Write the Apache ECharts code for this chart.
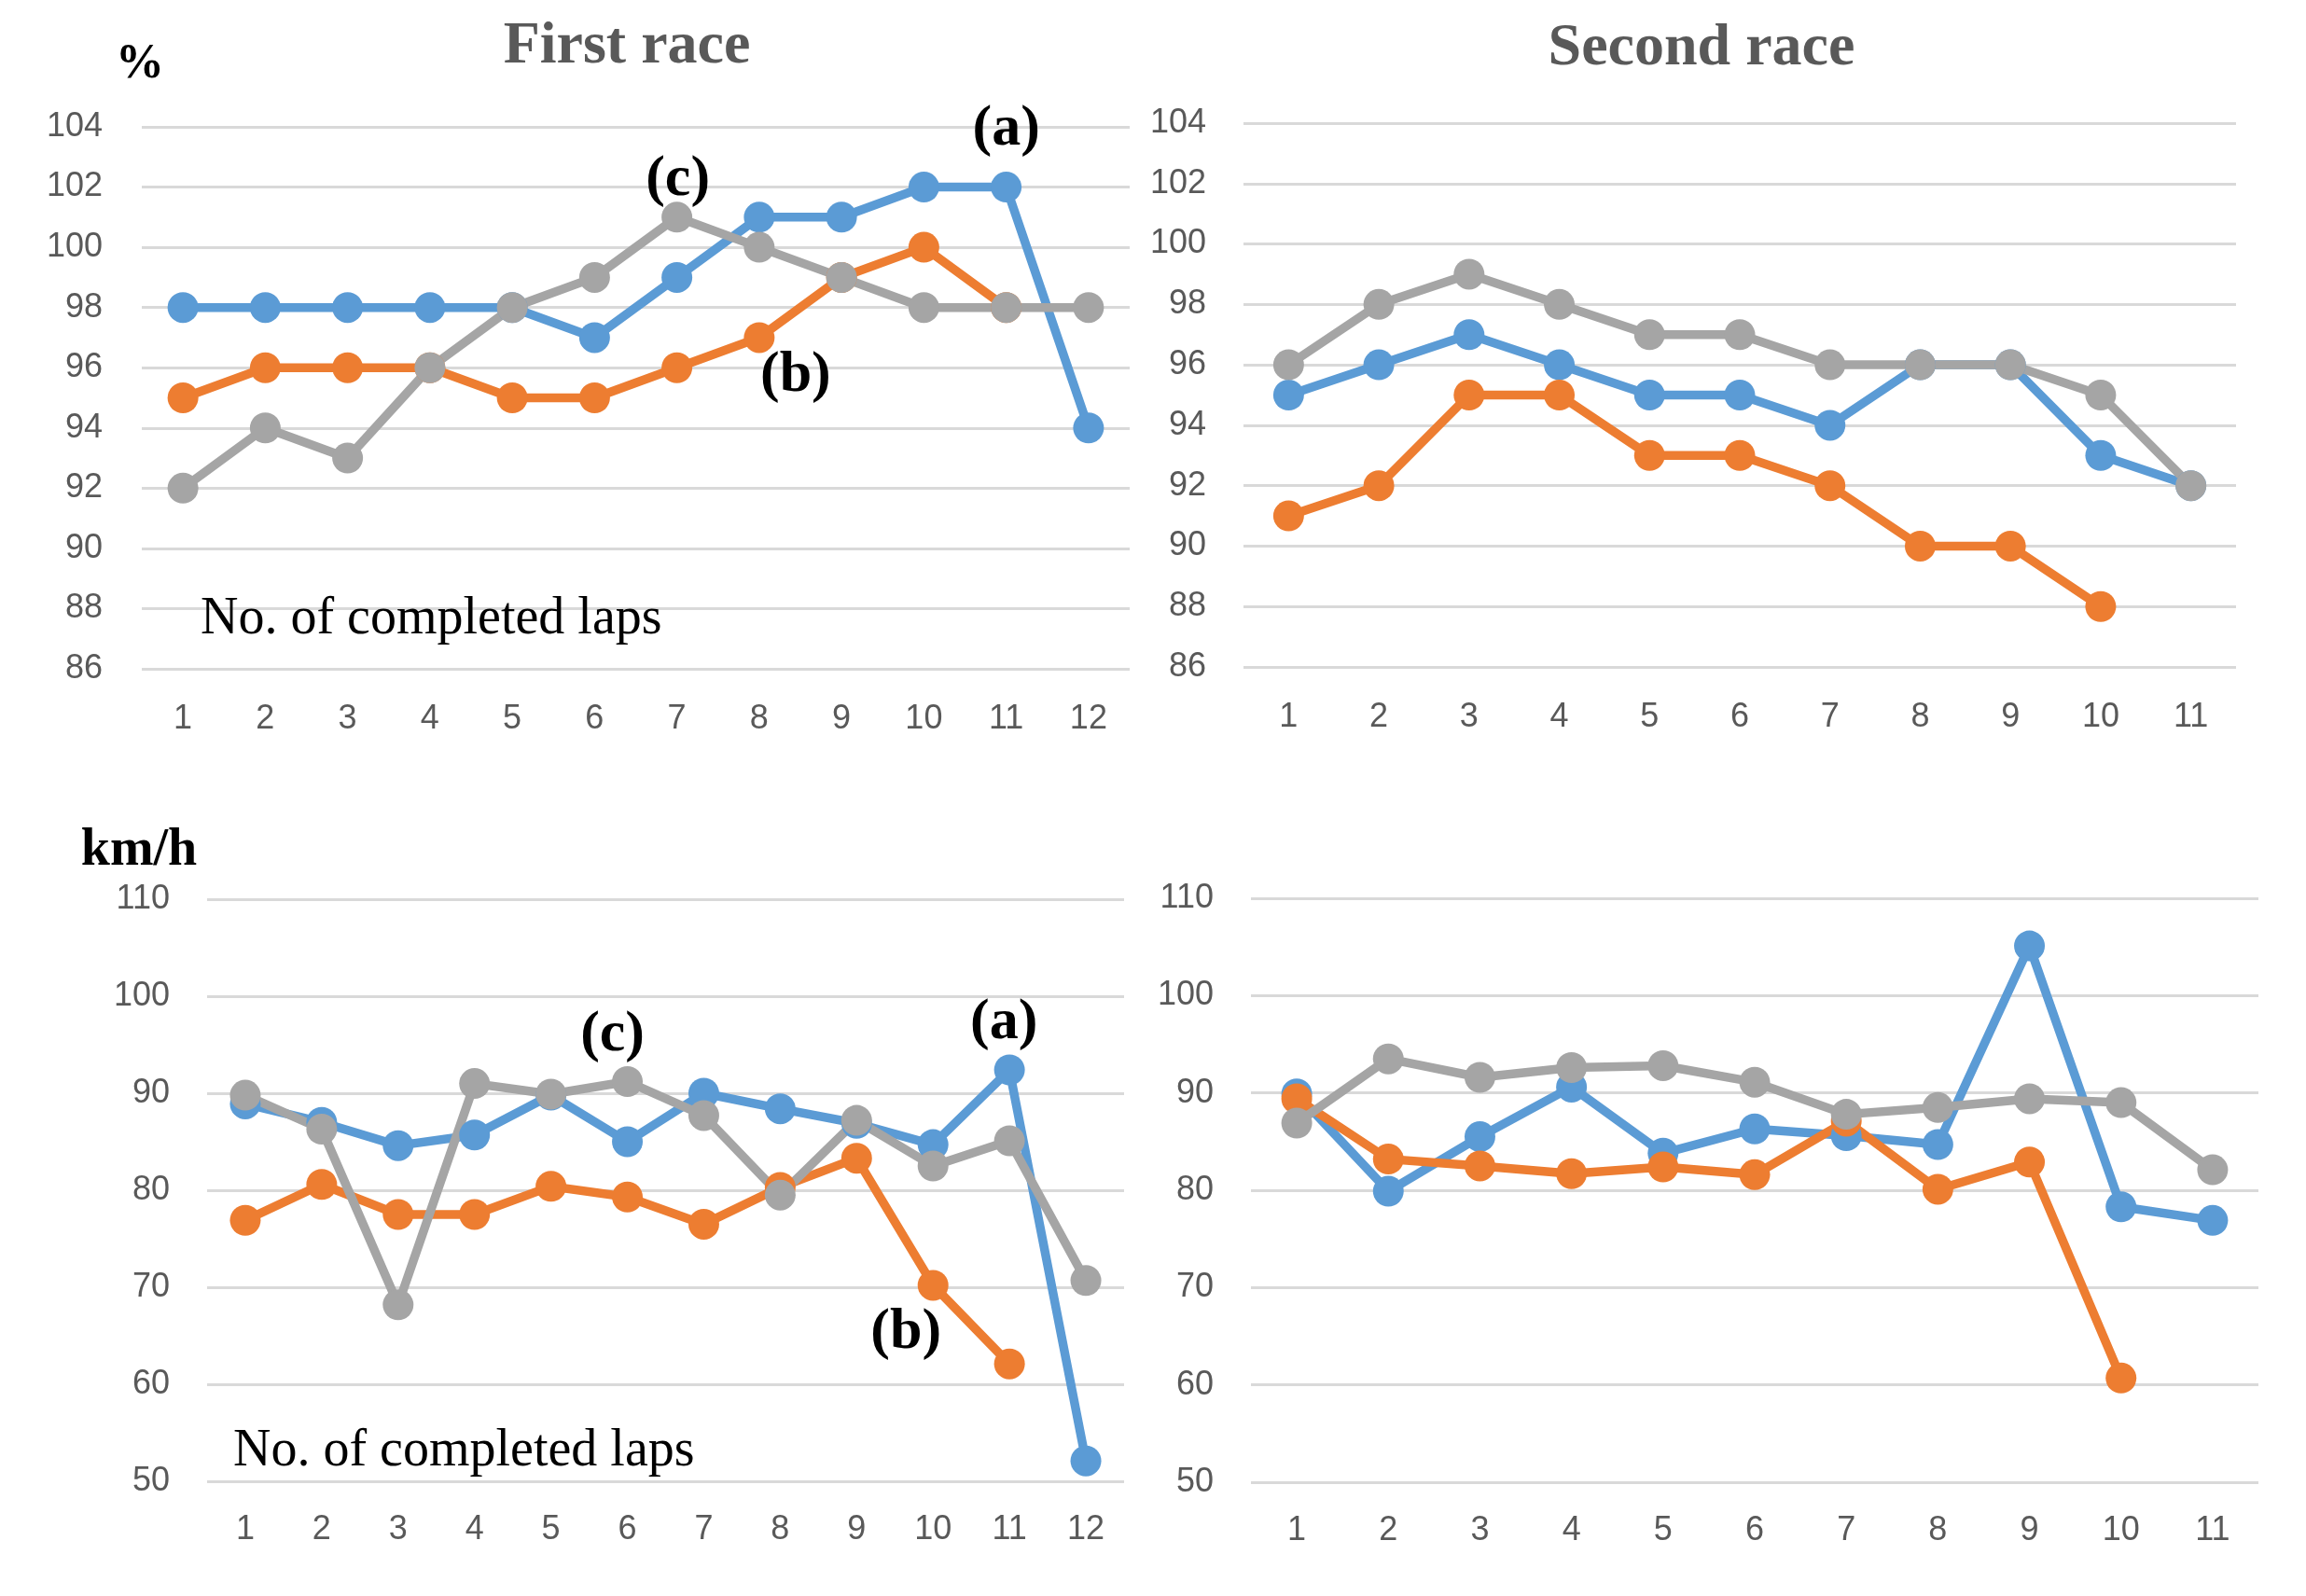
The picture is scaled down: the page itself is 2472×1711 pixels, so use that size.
<!DOCTYPE html>
<html>
<head>
<meta charset="utf-8">
<script src="https://cdn.jsdelivr.net/npm/echarts@6/dist/echarts.min.js"></script>
<style>
html,body{margin:0;padding:0;background:#fff;}
#c{width:2472px;height:1711px;}
</style>
</head>
<body>
<div id="c"></div>
<script>
// ---- Data ----
const lapsRace1 = ['1','2','3','4','5','6','7','8','9','10','11','12'];
const lapsRace2 = ['1','2','3','4','5','6','7','8','9','10','11'];

// Percent (top row)
const pctRace1A = [98, 98, 98, 98, 98, 97, 99, 101, 101, 102, 102, 94];
const pctRace1B = [95, 96, 96, 96, 95, 95, 96, 97, 99, 100, 98];
const pctRace1C = [92, 94, 93, 96, 98, 99, 101, 100, 99, 98, 98, 98];
const pctRace2A = [95, 96, 97, 96, 95, 95, 94, 96, 96, 93, 92];
const pctRace2B = [91, 92, 95, 95, 93, 93, 92, 90, 90, 88];
const pctRace2C = [96, 98, 99, 98, 97, 97, 96, 96, 96, 95, 92];

// Speed km/h (bottom row)
const kmhRace1A = [88.9, 87.0, 84.6, 85.7, 89.8, 85.0, 90.0, 88.4, 86.9, 84.7, 92.4, 52.1];
const kmhRace1B = [76.9, 80.6, 77.5, 77.5, 80.4, 79.3, 76.5, 80.3, 83.3, 70.2, 62.1];
const kmhRace1C = [89.8, 86.3, 68.2, 91.0, 89.9, 91.2, 87.7, 79.5, 87.2, 82.5, 85.1, 70.7];
const kmhRace2A = [89.9, 79.9, 85.5, 90.6, 83.8, 86.3, 85.6, 84.7, 105.1, 78.3, 76.9];
const kmhRace2B = [89.4, 83.2, 82.5, 81.7, 82.4, 81.6, 87.1, 80.1, 82.9, 60.7];
const kmhRace2C = [86.9, 93.5, 91.6, 92.6, 92.8, 91.1, 87.8, 88.5, 89.4, 89.0, 82.1];

const pctTicks = {min: 86, max: 104, interval: 2};
const kmhTicks = {min: 50, max: 110, interval: 10};

const colA = '#5b9bd5', colB = '#ed7d31', colC = '#a5a5a5';
const serif = '"Liberation Serif", "Times New Roman", serif';
const sans = '"Liberation Sans", Arial, sans-serif';

const chart = echarts.init(document.getElementById('c'));

const grids = [
  {left: 152, top: 136, width: 1059, height: 581},
  {left: 1333, top: 132, width: 1064, height: 583},
  {left: 222, top: 964, width: 983, height: 624},
  {left: 1341, top: 963, width: 1080, height: 626}
];

function xAx(i, cats, margin){
  return {
    type: 'category', gridIndex: i, data: cats, boundaryGap: true,
    axisLine: {show: false}, axisTick: {show: false},
    axisLabel: {color: '#595959', fontSize: 36, fontFamily: sans, margin: margin}
  };
}
function yAx(i, t, margin){
  return {
    type: 'value', gridIndex: i, min: t.min, max: t.max, interval: t.interval,
    axisLine: {show: false}, axisTick: {show: false},
    axisLabel: {color: '#595959', fontSize: 36, fontFamily: sans, margin: margin},
    splitLine: {lineStyle: {color: '#d9d9d9', width: 3}}
  };
}
function ser(i, data, color){
  return {
    type: 'line', xAxisIndex: i, yAxisIndex: i, data: data,
    symbol: 'circle', symbolSize: 33, showSymbol: true,
    lineStyle: {color: color, width: 9.5},
    itemStyle: {color: color},
    animation: false
  };
}

chart.setOption({
  animation: false,
  grid: grids,
  xAxis: [xAx(0, lapsRace1, 36), xAx(1, lapsRace2, 36), xAx(2, lapsRace1, 34), xAx(3, lapsRace2, 34)],
  yAxis: [yAx(0, pctTicks, 42), yAx(1, pctTicks, 40), yAx(2, kmhTicks, 40), yAx(3, kmhTicks, 40)],
  series: [
    ser(0, pctRace1A, colA), ser(0, pctRace1B, colB), ser(0, pctRace1C, colC),
    ser(1, pctRace2A, colA), ser(1, pctRace2B, colB), ser(1, pctRace2C, colC),
    ser(2, kmhRace1A, colA), ser(2, kmhRace1B, colB), ser(2, kmhRace1C, colC),
    ser(3, kmhRace2A, colA), ser(3, kmhRace2B, colB), ser(3, kmhRace2C, colC)
  ]
});

function txt(text, x, y, font, fill, align){
  return {type: 'text', x: x, y: y, z: 100,
    style: {text: text, font: font, fill: fill || '#000', textAlign: align || 'center', textVerticalAlign: 'middle'}};
}
function at(grid, idx, val, dx, dy, text){
  const p = chart.convertToPixel({gridIndex: grid}, [idx, val]);
  return txt(text, p[0] + dx, p[1] + dy, 'bold 62px ' + serif, '#000');
}

const g = [
  txt('First race', 672, 50, 'bold 64px ' + serif, '#595959'),
  txt('Second race', 1824, 52, 'bold 64px ' + serif, '#595959'),
  txt('%', 150, 70, 'bold 52px ' + serif, '#000'),
  txt('km/h', 149, 913, 'bold 56px ' + serif, '#000'),
  txt('No. of completed laps', 215, 664, '56px ' + serif, '#000', 'left'),
  txt('No. of completed laps', 250, 1556, '56px ' + serif, '#000', 'left'),
  at(0, 10, pctRace1A[10], 0, -62, '(a)'),
  at(0, 6, pctRace1C[6], 1, -40, '(c)'),
  at(0, 7, pctRace1B[7], 39, 41, '(b)'),
  at(2, 10, kmhRace1A[10], -6, -50, '(a)'),
  at(2, 5, kmhRace1C[5], -16, -50, '(c)'),
  at(2, 9, kmhRace1B[9], -29, 51, '(b)')
];
chart.setOption({graphic: g});
</script>
</body>
</html>
